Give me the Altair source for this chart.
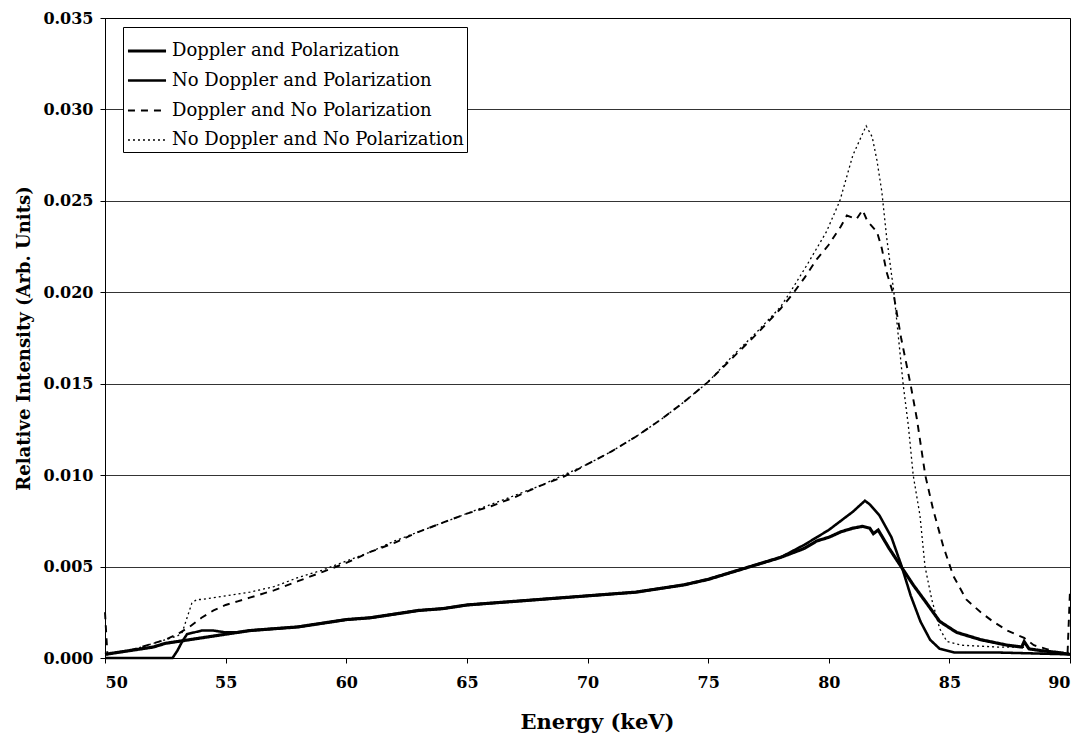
import altair as alt
import pandas as pd

NAMES = [
    "Doppler and Polarization",
    "No Doppler and Polarization",
    "Doppler and No Polarization",
    "No Doppler and No Polarization",
]

# Doppler and Polarization (thick solid)
x_dp = [50.0, 50.5, 51, 51.5, 52, 52.5, 53, 53.5, 54, 55, 56, 57, 58, 59, 60, 61, 62, 63, 64, 65,
        66, 67, 68, 69, 70, 71, 72, 73, 74, 75, 76, 77, 78, 79, 79.5, 80, 80.5, 81, 81.4, 81.7,
        81.85, 82.05, 82.5, 83, 83.5, 84, 84.6, 85.3, 86.3, 87.4, 88.0, 88.1, 88.3, 88.8, 89.5, 90]
y_dp = [0.0002, 0.0003, 0.0004, 0.0005, 0.0006, 0.0008, 0.0009, 0.0010, 0.0011, 0.0013, 0.0015,
        0.0016, 0.0017, 0.0019, 0.0021, 0.0022, 0.0024, 0.0026, 0.0027, 0.0029, 0.0030, 0.0031,
        0.0032, 0.0033, 0.0034, 0.0035, 0.0036, 0.0038, 0.0040, 0.0043, 0.0047, 0.0051, 0.0055,
        0.0060, 0.0064, 0.0066, 0.0069, 0.0071, 0.0072, 0.0071, 0.0068, 0.0070, 0.0060, 0.0050,
        0.0040, 0.0031, 0.0020, 0.0014, 0.0010, 0.0007, 0.0006, 0.0009, 0.0005, 0.0004, 0.0003,
        0.0002]

# No Doppler and Polarization (thin solid)
x_np = [50, 52.8, 53.0, 53.2, 53.4, 53.7, 54, 54.5, 55, 55.5, 56, 57, 58, 59, 60, 61, 62, 63, 64,
        65, 66, 67, 68, 69, 70, 71, 72, 73, 74, 75, 76, 77, 78, 79, 80, 80.5, 81, 81.5, 81.7, 82.1,
        82.6, 83.0, 83.4, 83.8, 84.2, 84.6, 85.2, 87, 90]
y_np = [0.0, 0.0, 0.0004, 0.0009, 0.0013, 0.0014, 0.0015, 0.0015, 0.0014, 0.0014, 0.0015, 0.0016,
        0.0017, 0.0019, 0.0021, 0.0022, 0.0024, 0.0026, 0.0027, 0.0029, 0.0030, 0.0031, 0.0032,
        0.0033, 0.0034, 0.0035, 0.0036, 0.0038, 0.0040, 0.0043, 0.0047, 0.0051, 0.0055, 0.0062,
        0.0070, 0.0075, 0.0080, 0.0086, 0.0084, 0.0078, 0.0066, 0.0051, 0.0034, 0.0020, 0.0010,
        0.0005, 0.0003, 0.0003, 0.0002]

# Doppler and No Polarization (thick dashed)
x_dn = [50, 50.1, 50.5, 51, 51.5, 52, 52.5, 53, 53.5, 54, 54.5, 55, 55.5, 56, 57, 58, 59, 60, 61,
        62, 63, 64, 65, 66, 67, 68, 69, 70, 71, 72, 73, 74, 75, 76, 77, 78, 78.5, 79, 79.5, 80,
        80.5, 80.75, 81.15, 81.4, 81.6, 82.0, 82.2, 82.4, 82.7, 83.0, 83.4, 83.65, 84.0, 84.33,
        84.75, 85.16, 85.7, 86.3, 86.8, 87.4, 88.1, 88.5, 89.0, 89.5, 89.9, 90]
y_dn = [0.0025, 0.0002, 0.0003, 0.0004, 0.0006, 0.0008, 0.0010, 0.0013, 0.0017, 0.0022, 0.0026,
        0.0029, 0.0031, 0.0033, 0.0037, 0.0042, 0.0047, 0.0052, 0.0058, 0.0063, 0.0069, 0.0074,
        0.0079, 0.0083, 0.0088, 0.0094, 0.0099, 0.0106, 0.0113, 0.0121, 0.0130, 0.0140, 0.0151,
        0.0164, 0.0177, 0.0191, 0.0199, 0.0208, 0.0218, 0.0226, 0.0236, 0.0242, 0.0240, 0.0245,
        0.0239, 0.0233, 0.0224, 0.0211, 0.0198, 0.0175, 0.0149, 0.0131, 0.0100, 0.0081, 0.0061,
        0.0045, 0.0032, 0.0025, 0.0020, 0.0015, 0.0011, 0.0007, 0.0005, 0.0003, 0.0003, 0.0037]

# No Doppler and No Polarization (thin dotted)
x_nn = [50, 50.5, 51, 51.5, 52, 52.5, 53, 53.2, 53.4, 53.6, 53.8, 54, 54.5, 55, 55.5, 56, 57, 58,
        59, 60, 61, 62, 63, 64, 65, 66, 67, 68, 69, 70, 71, 72, 73, 74, 75, 76, 77, 78, 78.4,
        79.1, 79.9, 80.46, 81.0, 81.55, 81.8, 82.0, 82.2, 82.4, 82.7, 83.09, 83.3, 83.5, 83.78,
        83.99, 84.27, 84.6, 84.9, 85.5, 87, 88, 89, 89.5, 90]
y_nn = [0.0002, 0.0003, 0.0004, 0.0006, 0.0008, 0.0010, 0.0012, 0.0014, 0.0022, 0.0030, 0.0032,
        0.0032, 0.0033, 0.0034, 0.0035, 0.0036, 0.0039, 0.0044, 0.0048, 0.0053, 0.0058, 0.0064,
        0.0069, 0.0074, 0.0079, 0.0084, 0.0089, 0.0094, 0.0100, 0.0106, 0.0113, 0.0121, 0.0130,
        0.0140, 0.0151, 0.0165, 0.0178, 0.0192, 0.0200, 0.0215, 0.0233, 0.0250, 0.0275, 0.0291,
        0.0285, 0.0272, 0.0255, 0.0230, 0.0200, 0.0149, 0.0127, 0.0100, 0.0078, 0.0050, 0.0032,
        0.0016, 0.0009, 0.0007, 0.0006, 0.0006, 0.0004, 0.0003, 0.0003]

X_TICKS = [50, 55, 60, 65, 70, 75, 80, 85, 90]
Y_TICKS = [0.000, 0.005, 0.010, 0.015, 0.020, 0.025, 0.030, 0.035]

frames = []
for name, xs, ys in zip(NAMES, [x_dp, x_np, x_dn, x_nn], [y_dp, y_np, y_dn, y_nn]):
    frames.append(pd.DataFrame({"energy": xs, "intensity": ys, "series": name, "order": range(len(xs))}))
df = pd.concat(frames, ignore_index=True)

SERIF = "DejaVu Serif"

legend = alt.Legend(
    title=None,
    orient="none",
    legendX=18,
    legendY=9,
    symbolType="stroke",
    symbolSize=1450,
    symbolStrokeColor="black",
    labelFont=SERIF,
    labelFontSize=18,
    labelColor="black",
    labelOffset=4,
    rowPadding=0,
    padding=3,
    strokeColor="black",
    fillColor="white",
    labelLimit=400,
)

chart = alt.Chart(df).mark_line(interpolate="linear").encode(
    x=alt.X(
        "energy:Q",
        scale=alt.Scale(domain=[50, 90], nice=False, zero=False),
        axis=alt.Axis(
            values=X_TICKS, format="d", title="Energy (keV)", grid=False,
            labelPadding=11, titlePadding=21, titleFontSize=21,
            titleX=492, titleAlign="center",
        ),
    ),
    y=alt.Y(
        "intensity:Q",
        scale=alt.Scale(domain=[0, 0.035], nice=False),
        axis=alt.Axis(
            values=Y_TICKS, format=".3f", title="Relative Intensity (Arb. Units)",
            grid=True, labelPadding=7, titlePadding=9, titleFontSize=18,
        ),
    ),
    color=alt.Color("series:N", scale=alt.Scale(domain=NAMES, range=["black"] * 4), legend=legend),
    strokeDash=alt.StrokeDash(
        "series:N",
        scale=alt.Scale(domain=NAMES, range=[[1, 0], [1, 0], [7, 6], [2, 3]]),
        legend=legend,
    ),
    strokeWidth=alt.StrokeWidth(
        "series:N",
        scale=alt.Scale(domain=NAMES, range=[3.2, 1.3, 3.2, 1.5]),
        legend=legend,
    ),
    order="order:Q",
).properties(
    width=965,
    height=640,
    padding={"left": 97, "top": 10, "right": 8, "bottom": 78},
    autosize=alt.AutoSizeParams(type="none"),
    background="white",
).configure_view(
    stroke="black", strokeWidth=1
).configure_axis(
    domainColor="black",
    tickColor="black",
    tickSize=5,
    gridColor="black",
    gridWidth=0.8,
    gridOpacity=1,
    labelFont=SERIF,
    labelFontSize=16,
    labelFontWeight="bold",
    labelColor="black",
    titleFont=SERIF,
    titleFontWeight="bold",
    titleColor="black",
)

chart.save("out.html", embed_options={"renderer": "svg", "actions": False})
